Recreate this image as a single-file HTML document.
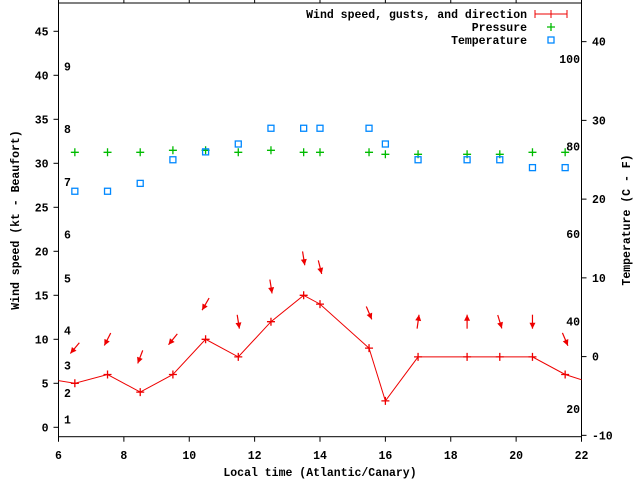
<!DOCTYPE html>
<html><head><meta charset="utf-8"><style>
html,body{margin:0;padding:0;background:#fff;}
svg text{font-family:"Liberation Mono",monospace;font-weight:bold;font-size:11.5px;fill:#000;}
</style></head><body>
<svg id="chart" width="640" height="480" viewBox="0 0 640 480" xmlns="http://www.w3.org/2000/svg">
<defs><clipPath id="plotclip"><rect x="58.5" y="3" width="523" height="433.7"/></clipPath></defs>
<rect x="0" y="0" width="640" height="480" fill="#fff"/>
<g id="axes"></g>
<g id="marks" clip-path="url(#plotclip)"></g>
<g id="legend">
<text x="527" y="18" text-anchor="end">Wind speed, gusts, and direction</text>
<line x1="535" y1="14" x2="567" y2="14" stroke="#e00" stroke-width="1"/>
<line x1="535" y1="10" x2="535" y2="18" stroke="#e00"/><line x1="551" y1="10" x2="551" y2="18" stroke="#e00"/><line x1="567" y1="10" x2="567" y2="18" stroke="#e00"/>
<text x="527" y="31" text-anchor="end">Pressure</text>
<path d="M547 27H555M551 23V31" stroke="#0b0" stroke-width="1.3"/>
<text x="527" y="44" text-anchor="end">Temperature</text>
<rect x="548" y="37" width="6" height="6" fill="none" stroke="#08f" stroke-width="1.3"/>
</g>
</svg>
<script>
const hours = [6.5,7.5,8.5,9.5,10.5,11.5,12.5,13.5,14,15.5,16,17,18.5,19.5,20.5,21.5];
const windSpeed = [5,6,4,6,10,8,12,15,14,9,3,8,8,8,8,6];
const edgeHours = [5.5,22.5];
const edgeSpeed = [5.6,4.8];
const arrowHours = [6.5,7.5,8.5,9.5,10.5,11.5,12.5,13.5,14,15.5,17,18.5,19.5,20.5,21.5];
const gustSpeed = [9,10,8,10,14,12,16,19.2,18.2,13,12,12,12,12,10];
const windFrom = [40,27,21,39,30,351,351,351,346,337,188,180,343,0,337];
const pressure = [1018,1018,1018,1019,1019,1018,1019,1018,1018,1018,1017,1017,1017,1017,1018,1018];
const temperature = [21,21,22,25,26,27,29,29,29,29,27,25,25,25,24,24];
const xTicks = [6,8,10,12,14,16,18,20,22];
const yTicks = [0,5,10,15,20,25,30,35,40,45];
const tempTicks = [-10,0,10,20,30,40];
const fLabels = [20,40,60,80,100];
const beaufortLabels = ['1','2','3','4','5','6','7','8','9'];
const beaufortKt = [0.9,3.9,7,11,16.9,21.9,27.9,33.9,41];

const NS='http://www.w3.org/2000/svg';
const X0=58.5,X1=581.5,Y0=3,Y1=436.7;
const sx=h=>X0+(h-6)*(X1-X0)/16;
const sy=v=>427.3-v*8.8;
const st=c=>356.6-c*7.874;
const sp=p=>152.3-(p-1018)*2;
function mk(tag,attrs,parent){const e=document.createElementNS(NS,tag);for(const k in attrs)e.setAttribute(k,attrs[k]);parent.appendChild(e);return e;}
const axes=document.getElementById('axes'),marks=document.getElementById('marks');

const frame=mk('rect',{x:X0,y:Y0,width:X1-X0,height:Y1-Y0,fill:'none',stroke:'#000','stroke-width':1},axes);


xTicks.forEach(h=>{
  const x=sx(h);
  mk('line',{x1:x,y1:Y1,x2:x,y2:Y1+5,stroke:'#000'},axes);
  mk('line',{x1:x,y1:Y0,x2:x,y2:Y0-3,stroke:'#000'},axes);
  const t=mk('text',{x:x,y:459,'text-anchor':'middle'},axes);t.textContent=h;
  
  
});
yTicks.forEach(v=>{
  const y=sy(v);
  mk('line',{x1:X0-5,y1:y,x2:X0,y2:y,stroke:'#000'},axes);
  const t=mk('text',{x:X0-10,y:y+4,'text-anchor':'end'},axes);t.textContent=v;
  
  
});
tempTicks.forEach(v=>{
  const y=st(v);
  mk('line',{x1:X1,y1:y,x2:X1+5,y2:y,stroke:'#000'},axes);
  const t=mk('text',{x:592,y:y+4,'text-anchor':'start'},axes);t.textContent=v;
  
  
});
fLabels.forEach(f=>{
  const t=mk('text',{x:580,y:st((f-32)/1.8)+4,'text-anchor':'end'},axes);t.textContent=f;
  
  
});
beaufortLabels.forEach((b,i)=>{
  const t=mk('text',{x:64,y:sy(beaufortKt[i])+4},axes);t.textContent=b;
  
  
});
let t=mk('text',{x:320,y:476,'text-anchor':'middle'},axes);t.textContent='Local time (Atlantic/Canary)';


t=mk('text',{x:0,y:0,'text-anchor':'middle',transform:'translate(19,220) rotate(-90)'},axes);t.textContent='Wind speed (kt - Beaufort)';


t=mk('text',{x:0,y:0,'text-anchor':'middle',transform:'translate(630,220) rotate(-90)'},axes);t.textContent='Temperature (C - F)';



// wind line
const pts=[[edgeHours[0],edgeSpeed[0]]].concat(hours.map((h,i)=>[h,windSpeed[i]])).concat([[edgeHours[1],edgeSpeed[1]]]);
const wl=mk('polyline',{points:pts.map(p=>sx(p[0])+','+sy(p[1])).join(' '),fill:'none',stroke:'#e00','stroke-width':1},marks);


hours.forEach((h,i)=>{
  const x=sx(h),y=sy(windSpeed[i]);
  const p=mk('path',{d:`M${x-4} ${y}H${x+4}M${x} ${y-4}V${y+4}`,stroke:'#e00','stroke-width':1.3},marks);
  
  
});
// arrows
arrowHours.forEach((h,i)=>{
  const cx=sx(h),cy=sy(gustSpeed[i]);
  const to=(windFrom[i]+180)*Math.PI/180;
  const dx=Math.sin(to),dy=-Math.cos(to),L=14;
  const tx=cx-dx*L/2,ty=cy-dy*L/2,hx=cx+dx*L/2,hy=cy+dy*L/2;
  const g=mk('g',{},marks);
  
  
  mk('line',{x1:tx,y1:ty,x2:hx,y2:hy,stroke:'#e00','stroke-width':1.2},g);
  const px=-dy,py=dx,b=6;
  mk('polygon',{points:`${hx},${hy} ${hx-dx*b+px*3},${hy-dy*b+py*3} ${hx-dx*b-px*3},${hy-dy*b-py*3}`,fill:'#e00'},g);
});
// pressure
hours.forEach((h,i)=>{
  const x=sx(h),y=sp(pressure[i]);
  const p=mk('path',{d:`M${x-4} ${y}H${x+4}M${x} ${y-4}V${y+4}`,stroke:'#0b0','stroke-width':1.3},marks);
  
  
});
// temperature
hours.forEach((h,i)=>{
  const x=sx(h),y=st(temperature[i]);
  const r=mk('rect',{x:x-3,y:y-3,width:6,height:6,fill:'none',stroke:'#08f','stroke-width':1.3},marks);
  
  
});
</script>
</body></html>
